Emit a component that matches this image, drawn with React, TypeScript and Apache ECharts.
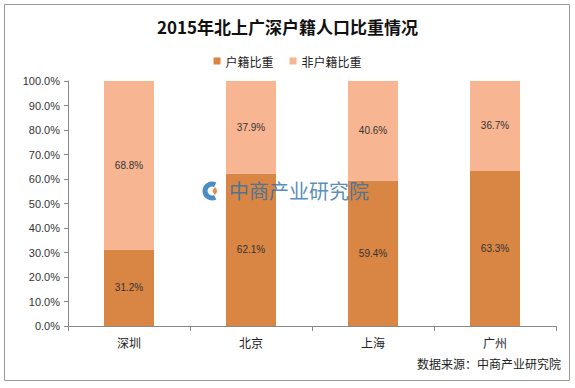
import React, { useEffect, useRef } from "react";
import * as echarts from "echarts";

const categories = ["深圳", "北京", "上海", "广州"];
const huji = [31.2, 62.1, 59.4, 63.3];
const feiHuji = [68.8, 37.9, 40.6, 36.7];
const seriesNames = ["户籍比重", "非户籍比重"];

export default function App() {
  const ref = useRef<HTMLDivElement>(null);
  useEffect(() => {
    const chart = echarts.init(ref.current!, null, { renderer: "svg" });
    const font = "'Noto Sans CJK SC', sans-serif";
    chart.setOption({
      animation: false,
      backgroundColor: "#fff",
      textStyle: { fontFamily: font },
      title: {
        text: "2015年北上广深户籍人口比重情况",
        left: "center",
        top: 13,
        textStyle: { fontSize: 17, fontWeight: "bold", color: "#111", fontFamily: font },
      },
      legend: {
        data: seriesNames,
        top: 50,
        left: "center",
        itemWidth: 7,
        itemHeight: 7,
        itemGap: 16,
        icon: "rect",
        textStyle: { fontSize: 12, color: "#222", fontFamily: font },
      },
      grid: { left: 68, right: 19, top: 81, bottom: 62 },
      xAxis: {
        type: "category",
        data: categories,
        axisLine: { lineStyle: { color: "#888" } },
        axisTick: { show: true, alignWithLabel: false, lineStyle: { color: "#888" } },
        axisLabel: { fontSize: 12, color: "#222", margin: 10, fontFamily: font },
      },
      yAxis: {
        type: "value",
        min: 0,
        max: 100,
        interval: 10,
        splitLine: { show: false },
        axisLine: { show: true, lineStyle: { color: "#888" } },
        axisTick: { show: true, length: 4, lineStyle: { color: "#888" } },
        axisLabel: {
          fontSize: 11,
          color: "#333",
          formatter: (v: number) => v.toFixed(1) + "%",
          fontFamily: "'Liberation Sans', sans-serif",
        },
      },
      series: [
        {
          name: seriesNames[0],
          type: "bar",
          stack: "total",
          barWidth: "41%",
          data: huji,
          itemStyle: { color: "#D98543" },
          label: {
            show: true,
            position: "inside",
            formatter: (p: any) => p.value.toFixed(1) + "%",
            fontSize: 10,
            color: "#333",
            fontFamily: "'Liberation Sans', sans-serif",
          },
        },
        {
          name: seriesNames[1],
          type: "bar",
          stack: "total",
          data: feiHuji,
          itemStyle: { color: "#F7B591" },
          label: {
            show: true,
            position: "inside",
            formatter: (p: any) => p.value.toFixed(1) + "%",
            fontSize: 10,
            color: "#333",
            fontFamily: "'Liberation Sans', sans-serif",
          },
        },
      ],
      graphic: [
        {
          type: "rect",
          shape: { x: 4.5, y: 4.5, width: 565, height: 376 },
          style: { fill: "none", stroke: "#999", lineWidth: 1 },
          silent: true,
        },
        {
          type: "arc",
          z: 100,
          shape: { cx: 212, cy: 191, r: 7, startAngle: Math.PI * 0.35, endAngle: Math.PI * 1.65, clockwise: true },
          style: { stroke: "#2b78b8", lineWidth: 5, fill: "none", opacity: 0.85 },
        },
        {
          type: "arc",
          z: 100,
          shape: { cx: 212, cy: 191, r: 3, startAngle: -Math.PI * 0.3, endAngle: Math.PI * 0.3, clockwise: true },
          style: { stroke: "#e8772a", lineWidth: 4, fill: "none", opacity: 0.85 },
        },
        {
          type: "text",
          z: 100,
          x: 229,
          y: 180,
          style: {
            text: "中商产业研究院",
            fontSize: 20,
            fill: "rgba(43,112,170,0.8)",
            fontFamily: font,
          },
        },
        {
          type: "text",
          right: 14,
          top: 357,
          style: { text: "数据来源：中商产业研究院", fontSize: 12, fill: "#222", fontFamily: font },
        },
      ],
    });
    return () => chart.dispose();
  }, []);
  return <div ref={ref} style={{ width: 575, height: 388, position: "absolute", left: 0, top: 0 }} />;
}
